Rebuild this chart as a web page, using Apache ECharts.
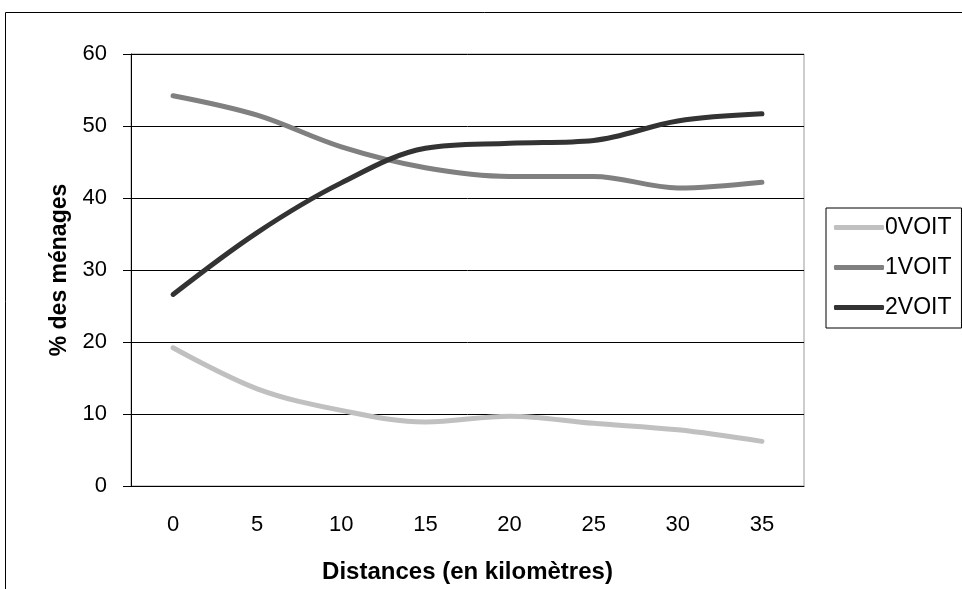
<!DOCTYPE html>
<html><head><meta charset="utf-8">
<script src="https://cdn.jsdelivr.net/npm/echarts@6/dist/echarts.min.js"></script>
<style>html,body{margin:0;padding:0;background:#fff}#c{width:962px;height:589px}</style>
</head><body><div id="c"></div>
<script>
var categories = ['0','5','10','15','20','25','30','35'];
var voit0 = [19.2, 13.5, 10.5, 8.9, 9.7, 8.7, 7.8, 6.2];
var voit1 = [54.2, 51.5, 47.1, 44.2, 43.0, 43.0, 41.4, 42.2];
var voit2 = [26.6, 35.2, 42.1, 46.9, 47.6, 48.0, 50.7, 51.7];
var yTicks = {min: 0, max: 60, interval: 10};

var font = 'Liberation Sans, Arial, sans-serif';
var chart = echarts.init(document.getElementById('c'), null, {renderer: 'canvas'});
function s(name, data, color) {
  return {name: name, type: 'line', data: data, smooth: 0.35, symbol: 'none',
    lineStyle: {color: color, width: 5, cap: 'round', join: 'round'}, itemStyle: {color: color}};
}
chart.setOption({
  animation: false,
  graphic: [{type: 'rect', shape: {x: 5.5, y: 12.5, width: 1000, height: 700}, style: {fill: null, stroke: '#000', lineWidth: 1}, silent: true}],
  grid: {left: 131, top: 54, right: 158, bottom: 103, show: true, borderColor: '#9a9a9a', borderWidth: 1,
         outerBoundsMode: 'none', containLabel: false},
  legend: {
    orient: 'vertical', left: 826, top: 208,
    data: [{name: '0VOIT', icon: 'roundRect'}, {name: '1VOIT', icon: 'roundRect'}, {name: '2VOIT', icon: 'roundRect'}],
    itemWidth: 50, itemHeight: 5, itemGap: 17,
    backgroundColor: '#fff', borderColor: '#000', borderWidth: 1,
    padding: [8, 10, 9, 8],
    textStyle: {fontFamily: font, fontSize: 23, color: '#000', padding: [0,0,0,-4]}
  },
  xAxis: {
    type: 'category', data: categories, boundaryGap: true,
    axisLine: {lineStyle: {color: '#000', width: 1}}, axisTick: {show: false},
    axisLabel: {fontFamily: font, fontSize: 22, color: '#000', margin: 28},
    name: 'Distances (en kilomètres)', nameLocation: 'middle', nameGap: 74,
    nameTextStyle: {fontFamily: font, fontSize: 24, fontWeight: 'bold', color: '#000'}
  },
  yAxis: {
    type: 'value', min: yTicks.min, max: yTicks.max, interval: yTicks.interval,
    axisLine: {show: true, lineStyle: {color: '#000', width: 1}},
    axisTick: {show: true, length: 8, lineStyle: {color: '#000'}},
    splitLine: {lineStyle: {color: '#000', width: 1}},
    axisLabel: {fontFamily: font, fontSize: 22, color: '#000', margin: 24},
    name: '% des ménages', nameLocation: 'middle', nameGap: 60, nameRotate: 90,
    nameTextStyle: {fontFamily: font, fontSize: 23, fontWeight: 'bold', color: '#000'}
  },
  series: [s('0VOIT', voit0, '#c0c0c0'), s('1VOIT', voit1, '#808080'), s('2VOIT', voit2, '#333333')]
});
</script></body></html>
